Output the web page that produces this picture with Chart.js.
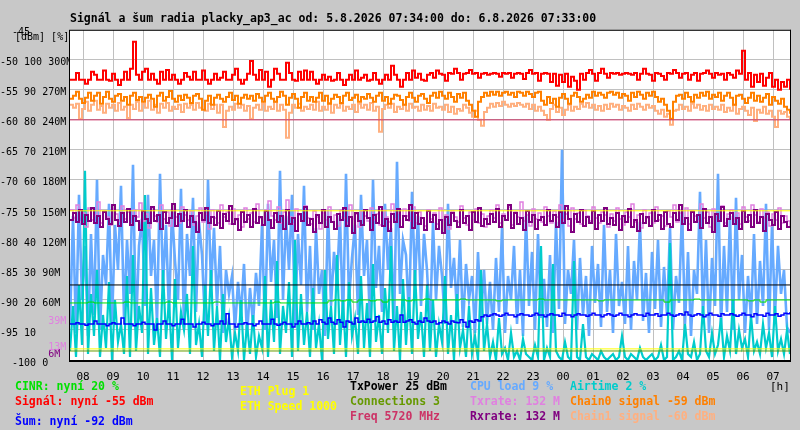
<!DOCTYPE html>
<html>
<head>
<meta charset="utf-8">
<script src="https://cdn.jsdelivr.net/npm/chart.js@4.4.1/dist/chart.umd.min.js"></script>
<style>
  html, body { margin: 0; padding: 0; background: #c8c8c8; }
  canvas { display: block; }
</style>
</head>
<body>
<canvas id="graf" width="800" height="430"></canvas>
<script>
// time axis: hours, 07:34 -> 07:34 next day
const startHour = 7 + 34 / 60;
const endHour = startHour + 24;
const sampleStep = 0.1;  // 6 min samples
const cinrStep = 0.2;    // 12 min samples

const hourTicks = [8, 9, 10, 11, 12, 13, 14, 15, 16, 17, 18, 19, 20, 21, 22, 23, 24, 25, 26, 27, 28, 29, 30, 31];
const hourLabels = ['08', '09', '10', '11', '12', '13', '14', '15', '16', '17', '18', '19',
  '20', '21', '22', '23', '00', '01', '02', '03', '04', '05', '06', '07'];

// left axis: dBm / % / rate columns
const dbmTicks = [-100, -95, -90, -85, -80, -75, -70, -65, -60, -55, -50, -45];
const pctLabels = ['0', '10', '20', '30', '40', '50', '60', '70', '80', '90', '100', ''];
const rateLabels = ['', '', '60M', '90M', '120M', '150M', '180M', '210M', '240M', '270M', '300M', ''];
const rateMarks = [39, 13, 6];

// signal [dBm]
const signal = [
  -53.3, -53.3, -52.2, -53.3, -53.3, -54, -53.3, -52, -52.5, -53.3, -53.3, -51.8, -53.3, -53.5, -52.3, -53.3, -54.2, -53.3, -52, -53.3,
  -51.5, -47, -52.5, -53.3, -52, -51.5, -53.3, -52.3, -53.3, -54, -52, -53.3, -51.7, -53.3, -52.5, -53.3, -54, -53.3, -52.2, -52.8,
  -53.3, -52, -53.3, -53.3, -51.8, -53.3, -54, -53.3, -52.3, -53.3, -53, -52, -53.3, -53.3, -52.5, -51.5, -53.3, -54, -53.3, -52.3,
  -50.2, -52.5, -53.3, -51.7, -53.3, -52, -54.5, -53.3, -51.5, -52.3, -53.3, -53.3, -50.5, -52.2, -53.3, -53.5, -52, -53.3, -51.8, -53.3,
  -52, -53.3, -54, -53.3, -52.5, -53.3, -52.8, -53.5, -53.3, -52.2, -53.3, -54.2, -53.3, -52.5, -53.3, -51.8, -53.3, -53, -52.5, -53.5,
  -53.3, -52.2, -53.3, -54, -53.3, -52.5, -53.3, -51, -52.5, -53.3, -54.5, -53.3, -52.2, -53.3, -51.8, -53, -52.3, -53.3, -53.5, -52.5,
  -52.2, -53, -51.8, -52.3, -52.5, -53.5, -52.2, -52.3, -51.5, -52.2, -53.3, -52.3, -52.2, -51.7, -52.3, -52.2, -53, -52.3, -52.2, -52.5,
  -52.3, -52.2, -52.3, -52.8, -52.2, -52.3, -52.2, -53, -52.3, -52.2, -52.3, -53.2, -52.2, -51.7, -52.3, -52.2, -53.5, -52.3, -52.2, -52.3,
  -53.7, -52.3, -54.3, -52.5, -53.7, -52.3, -54.5, -52.8, -53.5, -55, -52.3, -53.3, -52.2, -51.7, -52.3, -53.5, -52.2, -51.5, -52.3, -53,
  -52.2, -52.3, -52.2, -52.5, -52.3, -52.2, -52.3, -52.5, -52.2, -53.3, -52.3, -51.5, -52.3, -52.5, -53.5, -52.2, -52.3, -52.7, -53.3, -52.2,
  -52.3, -51.7, -52.2, -53, -52.3, -52.2, -53.3, -52.5, -52.2, -53.5, -52.3, -52.2, -51.8, -52.3, -53, -52.2, -52.5, -52.3, -53.3, -52.2,
  -52.5, -53, -51.8, -52.3, -48.5, -53.3, -52.2, -54.5, -52.5, -53.7, -52.3, -54.3, -53, -52.2, -54.5, -53.3, -55, -53.7, -54.5, -53.3,
  -55
];

const chain0 = [
  -56.5, -56, -55.3, -56.5, -57.2, -56.3, -55.5, -56.8, -56, -55.5, -57.3, -56.2, -55.3, -56.5, -57, -56, -55.7, -56.8, -56.2, -57.5,
  -56, -55.5, -56.7, -56.2, -57, -56.3, -55.8, -56.5, -57.8, -56, -55.5, -56.8, -56.2, -55.2, -56.5, -57, -56, -56.7, -55.8, -56.3,
  -57.2, -56, -55.7, -56.5, -58.3, -56.8, -56, -57.5, -56.3, -55.8, -56.5, -57, -56.2, -55.5, -56.7, -56, -57.3, -56.3, -55.8, -56.5,
  -56, -56.8, -55.7, -56.3, -57, -56, -55.5, -56.5, -57, -56.2, -55.3, -56, -57.5, -56.3, -55.7, -56.5, -58, -56.2, -55.5, -56.8,
  -56.2, -57, -56.3, -55.5, -56.8, -56, -57.3, -56.5, -55.8, -56.2, -57.2, -56, -55.5, -56.7, -56.3, -55.8, -57, -56.2, -56.5, -55.7,
  -56.3, -57, -56, -55.5, -56.8, -56.2, -57.3, -56.5, -55.8, -56, -56.7, -57.5, -56.2, -55.5, -56.3, -57, -56, -55.7, -56.5, -57.2,
  -56, -55.5, -56.3, -55.3, -56, -56.5, -55.5, -56.2, -57, -55.7, -56.3, -55.5, -56.8, -57.5, -58.5, -59.5, -57, -56.2, -55.5, -56,
  -55.3, -55.8, -55.3, -56, -55.5, -55.3, -55.8, -55.5, -56.2, -55.3, -55.5, -56, -55.3, -55.7, -56.2, -55.5, -55.3, -56.8, -57.5, -56.2,
  -57.2, -56.5, -57.8, -56.3, -55.7, -56.5, -57.3, -56, -55.5, -56.2, -57, -56.5, -55.8, -56.3, -55.3, -56, -55.5, -55.8, -56.3, -55.5,
  -55.3, -55.8, -55.5, -56.3, -55.7, -56, -56.8, -55.5, -56.2, -55.3, -55.8, -56.5, -55.5, -56, -55.3, -56.2, -57, -56.5, -57.5, -58.5,
  -59.8, -57, -56, -55.8, -56.5, -55.5, -56.2, -57, -55.8, -56.3, -55.5, -56, -55.3, -56.5, -55.8, -56.2, -55.5, -56.8, -56, -55.5,
  -56.3, -57.5, -56, -55.8, -56.5, -57.2, -56.3, -55.5, -56.8, -56, -57, -56.3, -55.7, -57.5, -56.2, -56.8, -57.3, -56.5, -57.8, -58.3,
  -59
];

const chain1 = [
  -57.5, -58, -57.3, -59.8, -58.2, -57, -58.5, -57.5, -56.8, -58.3, -57.7, -58.8, -57.3, -58, -57.5, -58.5, -57.2, -58.3, -57.8, -59.7,
  -57.5, -58.2, -57, -58.5, -57.3, -58, -56.8, -58.3, -57.5, -58.8, -57.3, -58, -57.2, -58.5, -57.8, -58.2, -57.5, -58.7, -57.3, -58,
  -57.5, -58.3, -57.2, -58, -57.8, -58.5, -57.3, -58.2, -57.5, -58.8, -57.5, -61.2, -58.5, -57.8, -58.3, -57.3, -58, -57.5, -58.5, -57.7,
  -59.8, -58, -57.5, -58.3, -57.3, -58.5, -57.8, -58.2, -57, -58.5, -57.5, -58.3, -63, -58.8, -57.5, -58, -57.3, -58.5, -57.8, -58.2,
  -57.5, -58.3, -57, -58.5, -57.8, -58.3, -57.2, -58.8, -57.5, -58, -57.3, -58.5, -57.8, -58.2, -57.5, -58.7, -57.3, -58, -57.5, -58.3,
  -57.2, -58.5, -57.8, -62, -58.2, -57.5, -58, -57.3, -58.7, -57.8, -58.2, -57.5, -58.5, -57.3, -58, -57.8, -58.5, -57.5, -58.3, -57.7,
  -58.5, -57.3, -58, -57.8, -58.3, -57.5, -58.7, -57.8, -59, -58.2, -58.5, -57.5, -58, -58.8, -59.5, -58.5, -60, -61, -58.7, -58,
  -57.3, -57.8, -57.2, -57.7, -57, -57.5, -57.8, -57.3, -57.7, -57.2, -57.5, -57.8, -57.3, -58.2, -57.5, -58.5, -57.8, -58.5, -59.2, -60,
  -58.2, -57.5, -58.7, -58, -59.2, -58.3, -57.5, -58.5, -57.8, -58.2, -57.3, -57.8, -57.2, -58, -57.5, -58.3, -57.7, -58.5, -57.5, -58.2,
  -57.3, -57.8, -57.5, -58.3, -57.7, -58, -58.5, -57.5, -58.2, -57.3, -57.8, -58.3, -57.5, -58, -57.7, -58.5, -59, -58.3, -59.5, -59,
  -60.8, -58.5, -58.3, -57.5, -58.2, -57.8, -58.5, -57.3, -58, -57.5, -58.3, -57.7, -58.5, -57.5, -58.2, -57.8, -58.3, -57.5, -58.7, -58,
  -58.5, -57.5, -59, -58.2, -57.8, -58.5, -59.2, -58, -60.2, -58.3, -58.8, -57.8, -59, -58.5, -59.5, -61.2, -58.5, -59, -58.7, -59.5,
  -60
];

// noise [dBm]
const noise = [
  -94, -94, -93.8, -94, -94, -94.2, -94, -94, -93.5, -94, -94, -94, -94.3, -94, -93.8, -94, -94, -93, -94, -94,
  -94, -94.3, -94, -94, -93.7, -94, -94, -94, -95, -94, -94, -93.5, -94, -94, -94.3, -94, -94, -93.2, -94, -94,
  -94, -94.5, -94, -94, -93.7, -94, -94, -94.3, -94, -94, -93.5, -94, -92.3, -94, -94, -94.5, -94, -94, -93.8, -94,
  -94, -94.3, -94, -93.5, -94, -94, -94, -93.2, -94, -94.2, -94, -93.7, -94, -94, -94.5, -94, -93.5, -94, -94, -93.8,
  -94, -93.5, -94, -93.3, -93.7, -94, -93, -93.7, -94, -93.3, -93.7, -94.5, -93.5, -93.7, -94, -93, -93.7, -93.5, -93.7, -93.2,
  -93.7, -93.5, -92.8, -93.7, -93.5, -94, -93.3, -93.7, -93.5, -93.7, -92.5, -93.7, -93.5, -93.3, -93.7, -94, -93.5, -93.7, -93, -93.5,
  -93.7, -93.5, -94, -93.8, -93.5, -93.7, -94, -93.5, -93.7, -93.8, -93.3, -93.7, -94.5, -93.5, -93.7, -93.3, -93.5, -92.8, -92.5, -92.7,
  -92.5, -92.3, -92.5, -92.7, -92.5, -92.2, -92.5, -92.5, -92.8, -92.5, -92.3, -92.5, -92.5, -92.7, -92.5, -92.2, -92.5, -92.5, -92.8, -92.5,
  -92.3, -92.5, -92.5, -92.7, -92.2, -92.5, -92.5, -92.8, -92.5, -92.3, -92.5, -92.5, -92.7, -92.5, -92.2, -92.5, -92.5, -92.8, -92.5, -92.3,
  -92.5, -92.7, -92.5, -92.2, -92.5, -92.5, -92.8, -92.5, -92.3, -92.5, -92.5, -92.7, -92.2, -92.5, -92.5, -92.3, -92.7, -92.5, -92.5, -92.2,
  -92.5, -92.7, -92.5, -92.3, -92.5, -92, -92.5, -92.7, -92.5, -92.3, -92.5, -92.8, -92.5, -92.2, -92.5, -92.5, -92.7, -92.3, -92.5, -92.5,
  -92.3, -92.5, -92.7, -92.5, -92.2, -92.5, -92.5, -92.8, -92.3, -92.5, -92.5, -92.7, -92.2, -92.5, -92.5, -92.3, -92.7, -92.5, -92.2, -92.3,
  -92
];

// CINR [%], 12 min samples
const cinr = [
  19, 19, 19, 19.3, 19, 19, 19, 19, 19, 19.3, 19, 19, 19, 19, 19, 19, 19.3, 19, 19, 19, 19, 19,
  19, 19, 19.3, 19, 19, 19, 19, 19, 19, 19, 19, 19, 19.3, 19, 19, 19, 19, 19, 19, 19, 19, 19.7,
  20, 19.7, 20, 19.3, 20, 20, 19.7, 20, 19.3, 20, 20, 20, 19.7, 20, 20, 20.3, 20,
  20, 20, 20, 20, 20.3, 20, 20, 20, 20, 20, 19.7, 20, 20, 20, 20, 20, 20, 20.3, 20, 20,
  20, 20, 20, 20, 20, 20, 20, 19.7, 20, 20, 20, 20, 20, 20, 20, 20, 20, 20, 19.3, 20,
  20, 20, 20, 20.3, 20, 20, 20, 20, 20, 20, 20, 20, 19.7, 20, 19.3, 20, 20, 20, 20, 20
];

// rates [M]
const rxrate = [
  140, 147, 138, 150, 136, 145, 139, 152, 137, 144, 133, 148, 141, 136, 155, 140, 134, 147, 138, 151,
  135, 144, 139, 130, 149, 141, 137, 153, 139, 145, 131, 148, 137, 142, 156, 134, 146, 139, 150, 133,
  144, 138, 128, 147, 140, 152, 137, 143, 135, 149, 132, 146, 139, 154, 136, 141, 130, 148, 138, 145,
  133, 151, 137, 143, 135, 149, 140, 132, 147, 138, 144, 131, 150, 136, 142, 129, 146, 139, 153, 135,
  141, 128, 145, 137, 150, 133, 143, 138, 131, 146, 140, 152, 134, 143, 127, 147, 139, 135, 150, 142,
  130, 145, 137, 153, 134, 141, 129, 146, 138, 151, 133, 144, 140, 155, 132, 147, 136, 142, 130, 149,
  138, 145, 131, 140, 127, 143, 135, 147, 139, 133, 150, 137, 144, 130, 148, 138, 152, 134, 141, 136,
  146, 138, 151, 133, 144, 140, 155, 132, 147, 136, 142, 130, 149, 138, 145, 131, 140, 143, 135, 150,
  139, 145, 133, 148, 137, 154, 141, 128, 146, 138, 150, 134, 143, 137, 149, 131, 145, 139, 152, 136,
  142, 135, 147, 130, 144, 138, 151, 133, 140, 129, 146, 137, 143, 134, 150, 139, 145, 131, 148, 136,
  133, 147, 140, 155, 136, 142, 130, 148, 138, 145, 132, 151, 137, 143, 128, 146, 139, 153, 134, 141,
  147, 136, 142, 131, 149, 138, 145, 133, 150, 137, 143, 129, 146, 140, 135, 148, 131, 144, 138, 133,
  132
];
const txrate = [
  150, 142, 155, 138, 147, 133, 152, 140, 145, 158, 137, 149, 143, 135, 151, 146, 139, 154, 141, 148,
  136, 150, 143, 157, 139, 146, 132, 152, 144, 138, 155, 141, 148, 134, 150, 143, 137, 153, 145, 140,
  149, 135, 144, 152, 138, 146, 131, 150, 142, 137, 155, 143, 148, 136, 151, 140, 145, 133, 152, 141,
  147, 138, 156, 142, 135, 150, 159, 144, 140, 153, 137, 148, 160, 143, 136, 151, 145, 139, 154, 142,
  136, 149, 143, 131, 147, 140, 153, 138, 145, 134, 150, 142, 137, 155, 141, 146, 133, 149, 144, 139,
  152, 140, 146, 135, 150, 143, 138, 156, 141, 147, 133, 151, 144, 139, 153, 137, 148, 142, 134, 150,
  141, 147, 136, 152, 140, 145, 131, 149, 143, 138, 154, 142, 135, 148, 140, 151, 137, 146, 133, 144,
  150, 142, 155, 137, 146, 140, 153, 135, 148, 143, 158, 139, 145, 134, 151, 141, 147, 138, 153, 144,
  137, 149, 143, 155, 140, 146, 134, 152, 141, 147, 136, 150, 144, 139, 153, 142, 137, 148, 145, 133,
  146, 139, 152, 141, 135, 148, 143, 156, 138, 145, 132, 150, 142, 147, 137, 153, 140, 144, 134, 149,
  143, 155, 138, 147, 141, 152, 136, 149, 144, 139, 156, 142, 148, 133, 151, 145, 140, 154, 137, 146,
  150, 141, 147, 136, 153, 143, 139, 155, 145, 138, 151, 142, 148, 134, 146, 140, 152, 137, 144, 139,
  132
];

// CPU load and airtime [%]
const cpuLoad = [
  12, 48, 9, 55, 20, 38, 8, 42, 15, 60, 10, 35, 25, 52, 12, 45, 30, 58, 14, 40,
  22, 65, 10, 38, 47, 18, 55, 28, 40, 12, 62, 25, 45, 15, 50, 33, 20, 57, 10, 42,
  28, 54, 16, 46, 35, 12, 60, 24, 44, 18, 38, 9, 30, 22, 28, 10, 26, 15, 32, 8,
  24, 12, 29, 18, 45, 10, 52, 26, 40, 14, 63, 20, 48, 30, 55, 12, 42, 25, 58, 16,
  38, 10, 44, 22, 30, 8, 50, 18, 36, 26, 48, 12, 62, 20, 34, 45, 15, 55, 28, 40,
  12, 60, 24, 38, 16, 52, 30, 44, 10, 66, 22, 40, 35, 14, 56, 26, 48, 18, 42, 30,
  10, 46, 20, 38, 28, 12, 52, 24, 34, 16, 40, 11, 32, 20, 28, 9, 36, 14, 30, 12,
  26, 10, 34, 16, 44, 9, 28, 20, 38, 12, 30, 8, 48, 18, 36, 10, 42, 14, 27, 11,
  35, 9, 46, 17, 70, 12, 30, 22, 40, 10, 34, 15, 28, 8, 38, 19, 32, 11, 45, 16,
  30, 9, 42, 18, 26, 12, 38, 10, 33, 20, 46, 13, 29, 9, 36, 17, 40, 11, 31, 15,
  44, 10, 28, 19, 50, 12, 36, 8, 30, 22, 56, 14, 40, 9, 34, 18, 62, 11, 38, 16,
  48, 10, 54, 20, 35, 9, 28, 14, 42, 12, 33, 18, 52, 10, 45, 15, 38, 22, 30, 11,
  9
];
const airtime = [
  3, 18, 1, 25, 5, 63, 2, 22, 8, 30, 1, 15, 4, 26, 0, 20, 6, 12, 2, 28,
  1, 35, 3, 18, 9, 55, 2, 24, 5, 14, 1, 30, 7, 20, 0, 27, 4, 16, 10, 22,
  2, 38, 5, 12, 1, 25, 8, 30, 3, 18, 0, 22, 6, 14, 1, 9, 3, 20, 0, 12,
  2, 15, 1, 8, 4, 28, 1, 20, 6, 33, 2, 18, 9, 26, 1, 40, 3, 22, 5, 16,
  1, 24, 4, 12, 0, 30, 7, 18, 2, 35, 5, 20, 1, 26, 8, 14, 2, 28, 4, 19,
  1, 32, 6, 15, 2, 24, 9, 38, 3, 18, 0, 27, 5, 21, 2, 30, 7, 16, 1, 25,
  3, 20, 1, 12, 6, 28, 2, 15, 0, 22, 4, 10, 1, 18, 2, 8, 0, 30, 3, 12,
  1, 6, 0, 14, 2, 4, 0, 9, 1, 3, 0, 7, 2, 1, 0, 5, 1, 38, 0, 4,
  1, 32, 3, 1, 0, 6, 1, 0, 33, 1, 0, 12, 1, 0, 2, 1, 0, 3, 1, 0,
  1, 2, 0, 1, 8, 1, 0, 2, 1, 0, 4, 1, 0, 1, 2, 0, 1, 5, 0, 1,
  39, 0, 1, 3, 0, 12, 2, 1, 6, 0, 2, 18, 3, 1, 9, 2, 5, 14, 1, 8,
  3, 20, 2, 10, 4, 7, 1, 15, 3, 6, 2, 12, 4, 9, 1, 18, 3, 7, 2, 10,
  2
];

// flat lines, all on the % scale
const levelNames = ['TxPower', 'Connections', 'ETH Plug', 'ETH Speed', 'Freq'];
const levelValues = [25, 3, 3.7, 49.7, 80];
const levelShown = ['25 dBm', '3', '1', '1000', '5720 MHz'];

const colors = {
  cinr: '#00e000', signal: '#ff0000', noise: '#0000ff', eth: '#ffff00', tx: '#000000',
  conn: '#669900', freq: '#cc3366', cpu: '#66aaff', txrate: '#e080e0', rxrate: '#800080',
  air: '#00cccc', chain0: '#ff8000', chain1: '#ffb080'
};

function series(arr, step) {
  return arr.map((v, i) => ({ x: startHour + i * step, y: v }));
}
function flat(v) {
  return [{ x: startHour, y: v }, { x: endHour, y: v }];
}
function last(arr) { return arr[arr.length - 1]; }

function line(label, data, color, axis, width, order, stepped = true) {
  return {
    label, data, yAxisID: axis, borderColor: color, borderWidth: width,
    pointRadius: 0, stepped, fill: false, order, borderJoinStyle: 'miter'
  };
}

const datasets = [
  line(levelNames[2], flat(levelValues[2]), colors.eth, 'yp', 1, 1),
  line(levelNames[1], flat(levelValues[1]), colors.conn, 'yp', 1, 1),
  line(levelNames[3], flat(levelValues[3]), colors.eth, 'yp', 1, 2),
  line(levelNames[0], flat(levelValues[0]), colors.tx, 'yp', 1, 3),
  line('CINR', series(cinr, cinrStep), colors.cinr, 'yp', 1, 4),
  line('Šum', series(noise, sampleStep), colors.noise, 'y', 1.5, 5),
  line(levelNames[4], flat(levelValues[4]), colors.freq, 'yp', 1, 6),
  line('Signál', series(signal, sampleStep), colors.signal, 'y', 2, 7),
  line('Chain0', series(chain0, sampleStep), colors.chain0, 'y', 2, 8),
  line('Chain1', series(chain1, sampleStep), colors.chain1, 'y', 2, 9),
  line('Rxrate', series(rxrate, sampleStep), colors.rxrate, 'yr', 2, 10),
  line('Txrate', series(txrate, sampleStep), colors.txrate, 'yr', 1.5, 11),
  line('Airtime', series(airtime, sampleStep), colors.air, 'yp', 2.2, 12, false),
  line('CPU load', series(cpuLoad, sampleStep), colors.cpu, 'yp', 2.6, 13, false)
];

const legendRows = [
  { text: 'CINR: nyní ' + last(cinr) + ' %', color: colors.cinr, x: 15, y: 387 },
  { text: 'Signál: nyní ' + last(signal) + ' dBm', color: colors.signal, x: 15, y: 402 },
  { text: 'Šum: nyní ' + last(noise) + ' dBm', color: colors.noise, x: 15, y: 422 },
  { text: 'ETH Plug ' + levelShown[2], color: colors.eth, x: 240, y: 392 },
  { text: 'ETH Speed ' + levelShown[3], color: colors.eth, x: 240, y: 407 },
  { text: 'TxPower ' + levelShown[0], color: colors.tx, x: 350, y: 387 },
  { text: 'Connections ' + levelShown[1], color: colors.conn, x: 350, y: 402 },
  { text: 'Freq ' + levelShown[4], color: colors.freq, x: 350, y: 417 },
  { text: 'CPU load ' + last(cpuLoad) + ' %', color: colors.cpu, x: 470, y: 387 },
  { text: 'Txrate: ' + last(txrate) + ' M', color: colors.txrate, x: 470, y: 402 },
  { text: 'Rxrate: ' + last(rxrate) + ' M', color: colors.rxrate, x: 470, y: 417 },
  { text: 'Airtime ' + last(airtime) + ' %', color: colors.air, x: 570, y: 387 },
  { text: 'Chain0 signal ' + last(chain0) + ' dBm', color: colors.chain0, x: 570, y: 402 },
  { text: 'Chain1 signal ' + last(chain1) + ' dBm', color: colors.chain1, x: 570, y: 417 }
];

const MONO = '"DejaVu Sans Mono", "Liberation Mono", monospace';

const decor = {
  id: 'decor',
  beforeDraw(chart) {
    const { ctx, chartArea: a } = chart;
    ctx.save();
    ctx.fillStyle = '#c8c8c8';
    ctx.fillRect(0, 0, chart.width, chart.height);
    ctx.fillStyle = '#ffffff';
    ctx.fillRect(a.left, a.top, a.right - a.left, a.bottom - a.top);
    ctx.restore();
  },
  afterDatasetsDraw(chart) {
    const { ctx, chartArea: a } = chart;
    ctx.save();
    ctx.strokeStyle = '#000';
    ctx.lineWidth = 1;
    ctx.strokeRect(a.left - 0.5, a.top + 0.5, a.right - a.left + 1, a.bottom - a.top);
    ctx.fillStyle = '#000';
    ctx.fillRect(a.left - 1, a.bottom, a.right - a.left + 2, 2);
    ctx.fillRect(a.right, a.top, 1, a.bottom - a.top + 2);
    ctx.restore();
  },
  afterDraw(chart) {
    const ctx = chart.ctx;
    ctx.save();
    ctx.textBaseline = 'middle';
    ctx.textAlign = 'left';
    ctx.font = '10px ' + MONO;
    ctx.fillStyle = '#000';
    ctx.fillText('[dBm] [%]', 15, 37);
    ctx.font = '11px ' + MONO;
    ctx.fillText('[h]', 770, 387);
    ctx.font = 'bold 11.5px ' + MONO;
    legendRows.forEach(r => {
      ctx.fillStyle = r.color;
      ctx.fillText(r.text, r.x, r.y);
    });
    ctx.restore();
  }
};

function yTickLabel(value, index, ticks) {
  const t = ticks[index];
  if (t.mark !== undefined) return '        ' + t.mark + 'M';
  const k = dbmTicks.indexOf(value);
  if (k < 0) return '';
  const parts = [String(dbmTicks[k]), pctLabels[k], rateLabels[k]].filter(p => p !== '');
  const indent = (k === 0 || k === dbmTicks.length - 1) ? '  ' : '';
  return indent + parts.join(' ');
}

new Chart(document.getElementById('graf'), {
  type: 'line',
  data: { datasets },
  plugins: [decor],
  options: {
    responsive: false,
    animation: false,
    devicePixelRatio: 1,
    events: [],
    layout: { padding: { left: 0, right: 10, top: 0, bottom: 0 } },
    plugins: {
      legend: { display: false },
      tooltip: { enabled: false },
      title: {
        display: true,
        text: 'Signál a šum radia placky_ap3_ac od: 5.8.2026 07:34:00 do: 6.8.2026 07:33:00',
        align: 'start',
        fullSize: false,
        color: '#000',
        font: { family: MONO, weight: 'bold', size: 11.5 },
        padding: { top: 12, bottom: 4 }
      }
    },
    scales: {
      x: {
        type: 'linear',
        min: startHour,
        max: endHour,
        afterBuildTicks: s => { s.ticks = hourTicks.map(v => ({ value: v })); },
        afterFit: s => { s.height = 70; },
        grid: { color: '#c0c0c0', drawTicks: false },
        border: { display: false },
        ticks: {
          autoSkip: false, maxRotation: 0, padding: 11, color: '#000',
          font: { family: MONO, size: 11 },
          callback: (v, i) => hourLabels[i]
        }
      },
      y: {
        type: 'linear',
        position: 'left',
        min: -100,
        max: -45,
        afterBuildTicks: s => {
          const t = dbmTicks.map(v => ({ value: v }));
          // rate marks sit on their own level; labels are shifted 3 px down below, so lift them back
          rateMarks.forEach((r, i) => t.push({ value: -100 + (r + 3) * 55 / 330, mark: r, markColor: i < 2 ? colors.txrate : colors.rxrate }));
          t.sort((a, b) => a.value - b.value);
          s.ticks = t;
        },
        afterFit: s => { s.width = 70; },
        grid: {
          drawTicks: false,
          color: c => (c.tick && c.tick.mark !== undefined) ? 'rgba(0,0,0,0)' : '#c0c0c0'
        },
        border: { display: false },
        ticks: {
          autoSkip: false, crossAlign: 'far', padding: 0, labelOffset: 3,
          font: { family: MONO, size: 10 },
          color: c => (c.tick && c.tick.markColor) || '#000',
          callback: yTickLabel
        }
      },
      yp: { type: 'linear', display: false, min: 0, max: 110 },
      yr: { type: 'linear', display: false, min: 0, max: 330 }
    }
  }
});
</script>
</body>
</html>
